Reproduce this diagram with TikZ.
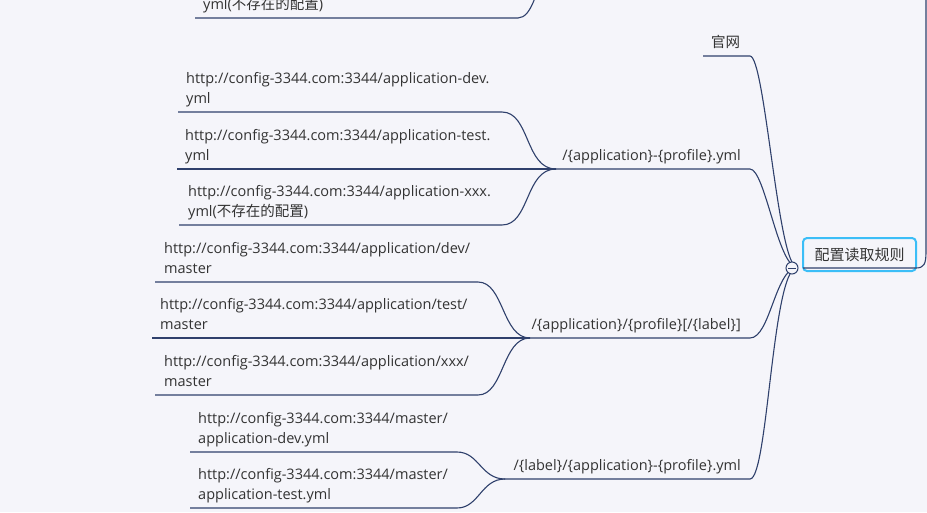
\documentclass[tikz,border=0pt]{standalone}
\usepackage{fontspec}
\setmainfont{Open Sans}
\newfontfamily\cjk{Noto Sans CJK SC}
\definecolor{bg}{HTML}{F5F5FA}
\definecolor{ln}{HTML}{2F406C}
\definecolor{tx}{HTML}{333333}
\definecolor{rootc}{HTML}{3BBEF7}
\tikzset{
  txt/.style={anchor=south west, inner sep=0pt, text depth=4pt, align=left, text=tx, font=\fontsize{14.5}{20}\selectfont},
  btxt/.style={anchor=south east, inner sep=0pt, text depth=4pt, text=tx, font=\fontsize{14.5}{20}\selectfont},
  conn/.style={draw=ln, line width=1.1pt},
  rootbox/.style={draw=rootc, line width=2pt, rounded corners=4pt, fill=bg, minimum width=113pt, minimum height=33pt, inner sep=0pt, text=tx, font=\cjk\fontsize{15}{18}\selectfont},
}
\begin{document}
\begin{tikzpicture}[x=1pt,y=-1pt]
\useasboundingbox (0,0) rectangle (927,512);
\fill[bg] (0,0) rectangle (927,512);
\clip (0,0) rectangle (927,512);

% root
\node[rootbox] (root) at (859.5,254.5) {配置读取规则};
\coordinate (rootL) at (803,268);
\coordinate (rootR) at (916,268);
\coordinate (J) at (797,267);
\coordinate (up) at (926,-5);
\draw[conn] (rootL) -- (rootR) .. controls +(8,0) and (926,264) .. (926,252) -- (up);

% top cut-off leaf
\node[txt] (top) at (203,14) {yml({\cjk 不存在的配置})};
\coordinate (topS) at (195,18);
\coordinate (topE) at (518,18);
\coordinate (topU) at (542,-25);
\draw[conn] (topS) -- (topE) .. controls +(14,0) and +(-4,12) .. (topU);

% branch 1: 官网
\node[txt] (gw) at (711,52) {\cjk 官网};
\coordinate (gwS) at (703,56);
\coordinate (gwE) at (750,56);
\draw[conn] (gwS) -- (gwE) .. controls +(15,0) and (778,267) .. (J);

% branch 2
\node[btxt] (b2) at (741,165) {/\{application\}-\{profile\}.yml};
\coordinate (b2J) at (556,169);
\coordinate (b2E) at (750,169);
\draw[conn] (b2J) -- (b2E) .. controls +(15,0) and (778,267) .. (J);

\node[txt] (l21) at (186,108) {http://config-3344.com:3344/application-dev.\\yml};
\coordinate (l21S) at (178,112);
\coordinate (l21E) at (502,112);
\draw[conn] (l21S) -- (l21E) .. controls +(28,0) and +(-31,0) .. (b2J);

\node[txt] (l22) at (185,165) {http://config-3344.com:3344/application-test.\\yml};
\coordinate (l22S) at (177,169);
\draw[conn] (l22S) -- (b2J);

\node[txt] (l23) at (188,221) {http://config-3344.com:3344/application-xxx.\\yml({\cjk 不存在的配置})};
\coordinate (l23S) at (179,225);
\coordinate (l23E) at (502,225);
\draw[conn] (l23S) -- (l23E) .. controls +(28,0) and +(-31,0) .. (b2J);

% branch 3
\node[btxt] (b3) at (741,334) {/\{application\}/\{profile\}[/\{label\}]};
\coordinate (b3J) at (530,338);
\coordinate (b3E) at (750,338);
\draw[conn] (b3J) -- (b3E) .. controls +(20,0) and (775,270) .. (J);

\node[txt] (l31) at (164,278) {http://config-3344.com:3344/application/dev/\\master};
\coordinate (l31S) at (155,282);
\coordinate (l31E) at (478,282);
\draw[conn] (l31S) -- (l31E) .. controls +(26,0) and +(-28,0) .. (b3J);

\node[txt] (l32) at (160,334) {http://config-3344.com:3344/application/test/\\master};
\coordinate (l32S) at (152,338);
\draw[conn] (l32S) -- (b3J);

\node[txt] (l33) at (164,391) {http://config-3344.com:3344/application/xxx/\\master};
\coordinate (l33S) at (155,395);
\coordinate (l33E) at (478,395);
\draw[conn] (l33S) -- (l33E) .. controls +(26,0) and +(-28,0) .. (b3J);

% branch 4
\node[btxt] (b4) at (741,475) {/\{label\}/\{application\}-\{profile\}.yml};
\coordinate (b4J) at (505,479);
\coordinate (b4E) at (750,479);
\draw[conn] (b4J) -- (b4E) .. controls +(18,0) and (772,270) .. (J);

\node[txt] (l41) at (198,448) {http://config-3344.com:3344/master/\\application-dev.yml};
\coordinate (l41S) at (190,452);
\coordinate (l41E) at (457,452);
\draw[conn] (l41S) -- (l41E) .. controls +(22,0) and +(-24,0) .. (b4J);

\node[txt] (l42) at (198,504) {http://config-3344.com:3344/master/\\application-test.yml};
\coordinate (l42S) at (190,508);
\coordinate (l42E) at (457,508);
\draw[conn] (l42S) -- (l42E) .. controls +(22,0) and +(-24,0) .. (b4J);

% collapse circle
\node[circle, draw=ln, fill=bg, line width=1pt, minimum size=12pt, inner sep=0pt] (col) at (792,268) {};
\draw[ln, line width=1pt] ([xshift=-4pt]col.center) -- ([xshift=4pt]col.center);
\end{tikzpicture}
\end{document}
